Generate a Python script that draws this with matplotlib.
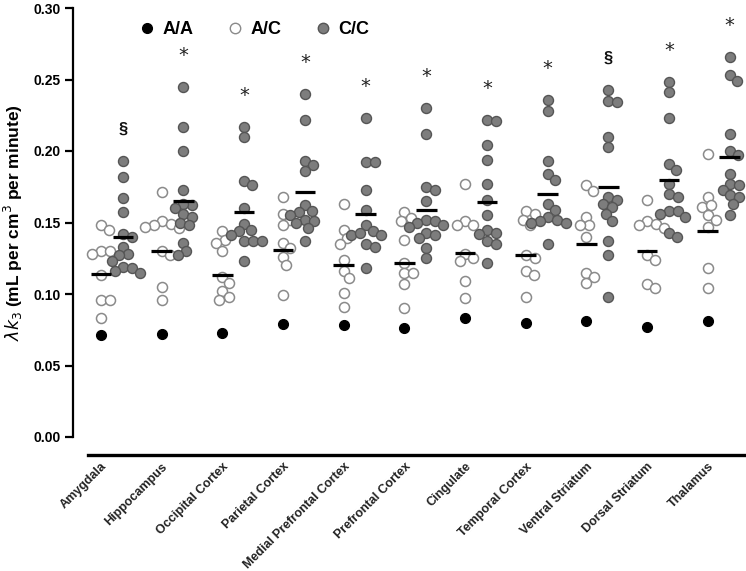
import numpy as np
import matplotlib
matplotlib.use("Agg")
import matplotlib.pyplot as plt
from matplotlib.lines import Line2D

plt.rcParams['font.family'] = ['Liberation Sans', 'DejaVu Sans']

regions = ["Amygdala", "Hippocampus", "Occipital Cortex", "Parietal Cortex",
           "Medial Prefrontal Cortex", "Prefrontal Cortex", "Cingulate",
           "Temporal Cortex", "Ventral Striatum", "Dorsal Striatum", "Thalamus"]

aa_vals = [0.071, 0.072, 0.073, 0.079, 0.078, 0.076, 0.083, 0.080, 0.081, 0.077, 0.081]

ac_vals = [
    [0.148, 0.145, 0.130, 0.128, 0.130, 0.113, 0.096, 0.096, 0.083],
    [0.171, 0.151, 0.149, 0.148, 0.147, 0.146, 0.130, 0.127, 0.105, 0.096],
    [0.144, 0.138, 0.136, 0.130, 0.112, 0.108, 0.102, 0.098, 0.096],
    [0.168, 0.156, 0.152, 0.148, 0.136, 0.132, 0.126, 0.120, 0.099],
    [0.163, 0.145, 0.139, 0.135, 0.124, 0.116, 0.111, 0.101, 0.091],
    [0.157, 0.153, 0.151, 0.138, 0.122, 0.115, 0.115, 0.107, 0.090],
    [0.177, 0.151, 0.148, 0.148, 0.128, 0.125, 0.123, 0.109, 0.097],
    [0.158, 0.156, 0.152, 0.148, 0.127, 0.125, 0.116, 0.113, 0.098],
    [0.176, 0.172, 0.154, 0.148, 0.148, 0.140, 0.115, 0.112, 0.108],
    [0.166, 0.151, 0.149, 0.148, 0.146, 0.127, 0.124, 0.107, 0.104],
    [0.198, 0.168, 0.161, 0.162, 0.155, 0.152, 0.147, 0.118, 0.104],
]

cc_vals = [
    [0.193, 0.182, 0.167, 0.157, 0.142, 0.140, 0.133, 0.128, 0.127, 0.123, 0.119, 0.118, 0.116, 0.115],
    [0.245, 0.217, 0.200, 0.173, 0.162, 0.163, 0.160, 0.156, 0.154, 0.150, 0.148, 0.136, 0.130, 0.127],
    [0.217, 0.210, 0.179, 0.176, 0.160, 0.149, 0.145, 0.144, 0.141, 0.137, 0.137, 0.137, 0.123],
    [0.240, 0.222, 0.193, 0.190, 0.186, 0.162, 0.158, 0.157, 0.155, 0.152, 0.151, 0.150, 0.146, 0.137],
    [0.223, 0.192, 0.192, 0.173, 0.159, 0.148, 0.144, 0.141, 0.141, 0.143, 0.135, 0.133, 0.118],
    [0.230, 0.212, 0.175, 0.173, 0.165, 0.152, 0.151, 0.150, 0.148, 0.147, 0.143, 0.141, 0.139, 0.132, 0.125],
    [0.222, 0.221, 0.204, 0.194, 0.177, 0.166, 0.155, 0.145, 0.143, 0.142, 0.137, 0.135, 0.122],
    [0.236, 0.228, 0.193, 0.184, 0.180, 0.163, 0.159, 0.154, 0.152, 0.151, 0.150, 0.150, 0.135],
    [0.243, 0.235, 0.234, 0.210, 0.203, 0.168, 0.166, 0.163, 0.161, 0.156, 0.151, 0.137, 0.127, 0.098],
    [0.248, 0.241, 0.223, 0.191, 0.187, 0.177, 0.170, 0.168, 0.158, 0.158, 0.156, 0.154, 0.143, 0.140],
    [0.266, 0.253, 0.249, 0.212, 0.200, 0.197, 0.184, 0.177, 0.176, 0.173, 0.169, 0.168, 0.163, 0.155],
]

ac_means = [0.114, 0.130, 0.113, 0.131, 0.120, 0.122, 0.129, 0.127, 0.135, 0.130, 0.144]
cc_means = [0.140, 0.165, 0.157, 0.171, 0.156, 0.159, 0.164, 0.170, 0.175, 0.180, 0.196]
sig_marks = ['§', '*', '*', '*', '*', '*', '*', '*', '§', '*', '*']

yticks = [0.00, 0.05, 0.10, 0.15, 0.20, 0.25, 0.30]

W, H = 746, 571
fig = plt.figure(figsize=(W / 100, H / 100), dpi=100)
ax = fig.add_axes([73 / W, 1 - 437 / H, 673 / W, 429 / H])

xmin, xmax = -0.461, 10.63
ax.set_xlim(xmin, xmax)
ax.set_ylim(0, 0.30)

XPX = 673 / (xmax - xmin)
YPX = 429 / 0.30
CC_SHIFT = 0.36


def swarm_offsets(vals, diam=9.0):
    ys = np.asarray(vals) * YPX
    order = np.argsort(-ys, kind='stable')
    cands = []
    for c in np.arange(0, 45, 0.5):
        cands += [c, -c] if c > 0 else [0.0]
    placed = []
    offs = np.zeros(len(vals))
    for i in order:
        y = ys[i]
        chosen = cands[-1]
        for c in cands:
            if all((c - px) ** 2 + (y - py) ** 2 >= diam ** 2 for px, py in placed):
                chosen = c
                break
        placed.append((chosen, y))
        offs[i] = chosen / XPX
    return offs


ms = 52
for i in range(len(regions)):
    ac = np.array(ac_vals[i])
    cc = np.array(cc_vals[i])
    xo = swarm_offsets(ac)
    ax.scatter(i + xo, ac, s=ms, facecolor='white', edgecolor='#8a8a8a', linewidth=1.1, zorder=3)
    xo2 = swarm_offsets(cc)
    ax.scatter(i + CC_SHIFT + xo2, cc, s=ms, facecolor='#7d7d7d', edgecolor='#555555', linewidth=1.0, zorder=3)
    ax.scatter([i], [aa_vals[i]], s=ms, facecolor='black', edgecolor='black', linewidth=0.8, zorder=3)
    ax.plot([i - 0.17, i + 0.17], [ac_means[i]] * 2, color='black', lw=2.3, zorder=5, solid_capstyle='butt')
    ax.plot([i + CC_SHIFT - 0.17, i + CC_SHIFT + 0.17], [cc_means[i]] * 2, color='black', lw=2.3, zorder=5,
            solid_capstyle='butt')
    mark = sig_marks[i]
    if mark == '*':
        ax.text(i + CC_SHIFT, max(cc) + 0.022, mark, ha='center', va='center', fontsize=14, color='#222222',
                family='DejaVu Sans')
    else:
        ax.text(i + CC_SHIFT, max(cc) + 0.022, mark, ha='center', va='center', fontsize=12, fontweight='bold',
                color='#111111')

# spines
for s in ['top', 'right']:
    ax.spines[s].set_visible(False)
ax.spines['left'].set_linewidth(1.6)
ax.spines['left'].set_bounds(0, 0.30)
ax.spines['bottom'].set_position(('outward', 13))
ax.spines['bottom'].set_linewidth(2.4)
ax.spines['bottom'].set_bounds(xmin + 15 / XPX, xmax)

ax.set_yticks(yticks)
ax.set_yticklabels([f"{v:.2f}" for v in yticks], fontsize=10, fontweight='bold')
ax.tick_params(axis='y', direction='out', length=6, width=1.6, pad=3)
ax.set_xticks(range(len(regions)))
ax.set_xticklabels(regions, rotation=45, ha='right', va='top', rotation_mode='anchor',
                   fontsize=9, fontweight='bold', color='#222222')
ax.tick_params(axis='x', length=0, pad=4)

ax.set_ylabel(r'$\lambda k_3$ (mL per cm$^3$ per minute)', fontsize=12.5, fontweight='bold')
ax.yaxis.set_label_coords(-(73 - 25) / 673, 0.5)

handles = [
    Line2D([], [], marker='o', ls='', markersize=7, markerfacecolor='black', markeredgecolor='black'),
    Line2D([], [], marker='o', ls='', markersize=7.5, markerfacecolor='white', markeredgecolor='#8a8a8a'),
    Line2D([], [], marker='o', ls='', markersize=7.5, markerfacecolor='#7d7d7d', markeredgecolor='#555555'),
]
leg = ax.legend(handles, ['A/A', 'A/C', 'C/C'], ncol=3, frameon=False, loc='upper left',
                bbox_to_anchor=((141 - 73) / 673 - 0.018, 0.995), prop={'weight': 'bold', 'size': 13},
                handlelength=0.8, handletextpad=0.45, columnspacing=1.9, borderaxespad=0.2)

fig.savefig('out.png', dpi=100)
